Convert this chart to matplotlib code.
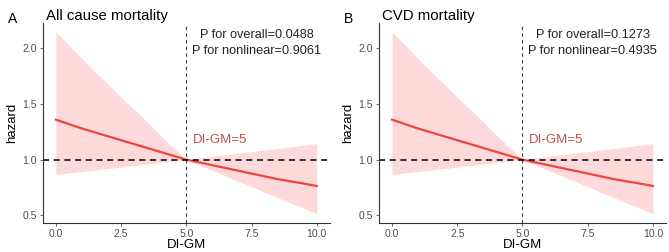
import matplotlib
matplotlib.use("Agg")
import matplotlib.pyplot as plt
import numpy as np

# ---------------------------------------------------------------------------
# Data (both panels show the same spline)
# ---------------------------------------------------------------------------
di_gm = [0, 0.5, 1, 1.5, 2, 2.5, 3, 3.5, 4, 4.5, 5,
         5.5, 6, 6.5, 7, 7.5, 8, 8.5, 9, 9.5, 10]
hr = [1.36, 1.32, 1.28, 1.245, 1.21, 1.175, 1.14, 1.105, 1.07, 1.035, 1.00,
      0.975, 0.95, 0.925, 0.90, 0.875, 0.85, 0.825, 0.805, 0.785, 0.763]
hr_upper = [2.15, 2.03, 1.91, 1.79, 1.68, 1.56, 1.45, 1.34, 1.22, 1.11, 1.00,
            1.014, 1.029, 1.043, 1.058, 1.072, 1.086, 1.10, 1.115, 1.13, 1.145]
hr_lower = [0.868, 0.881, 0.894, 0.907, 0.92, 0.934, 0.947, 0.96, 0.974, 0.987, 1.00,
            0.951, 0.903, 0.854, 0.805, 0.757, 0.708, 0.659, 0.61, 0.562, 0.513]

titles = ["All cause mortality", "CVD mortality"]
panel_tags = ["A", "B"]
p_overall = ["0.0488", "0.1273"]
p_nonlinear = ["0.9061", "0.4935"]
ref_value = 5

LINE_COLOR = "#f0443f"
BAND_COLOR = "#fdd3d3"
LABEL_RED = "#c0504d"
TICK_GRAY = "#4d4d4d"

plt.rcParams["font.family"] = ["Liberation Sans", "DejaVu Sans"]

fig = plt.figure(figsize=(6.69, 2.52), dpi=100)
axes_left = [0.064, 0.5665]

for i in range(2):
    ax = fig.add_axes([axes_left[i], 0.115, 0.429, 0.794])

    ax.fill_between(di_gm, hr_lower, hr_upper, color=BAND_COLOR,
                    alpha=0.85, linewidth=0)
    ax.plot(di_gm, hr, color=LINE_COLOR, linewidth=1.6)
    ax.axhline(1.0, color="black", linestyle=(0, (4, 3)), linewidth=1.1)
    ax.axvline(ref_value, color="#333333", linestyle=(0, (3, 3)), linewidth=0.8)

    ax.set_xlim(-0.5, 10.5)
    ax.set_ylim(0.43, 2.23)
    ax.set_xticks([0, 2.5, 5, 7.5, 10])
    ax.set_xticklabels(["0.0", "2.5", "5.0", "7.5", "10.0"])
    ax.set_yticks([0.5, 1.0, 1.5, 2.0])
    ax.set_yticklabels(["0.5", "1.0", "1.5", "2.0"])
    ax.tick_params(labelsize=7.5, colors=TICK_GRAY, length=2.5, width=0.6, pad=2)
    ax.tick_params(labelcolor=TICK_GRAY)

    for side in ["top", "right"]:
        ax.spines[side].set_visible(False)
    for side in ["left", "bottom"]:
        ax.spines[side].set_color("#333333")
        ax.spines[side].set_linewidth(0.8)

    ax.set_xlabel("DI-GM", fontsize=9.5, labelpad=0)
    ax.set_ylabel("hazard", fontsize=9.5, labelpad=3)

    ax.set_title(titles[i], fontsize=10.8, loc="left", pad=2, x=0.01)

    ax.text(7.7, 2.12, f"P for overall={p_overall[i]}", fontsize=9.2,
            ha="center", va="center", color="#222222")
    ax.text(7.7, 1.98, f"P for nonlinear={p_nonlinear[i]}", fontsize=9.2,
            ha="center", va="center", color="#222222")
    ax.text(5.25, 1.18, f"DI-GM={ref_value}", fontsize=9.5,
            ha="left", va="center", color=LABEL_RED)

    fig.text(axes_left[i] - 0.052, 0.925, panel_tags[i], fontsize=10,
             ha="left", va="center")

fig.savefig("out.png", dpi=100)
